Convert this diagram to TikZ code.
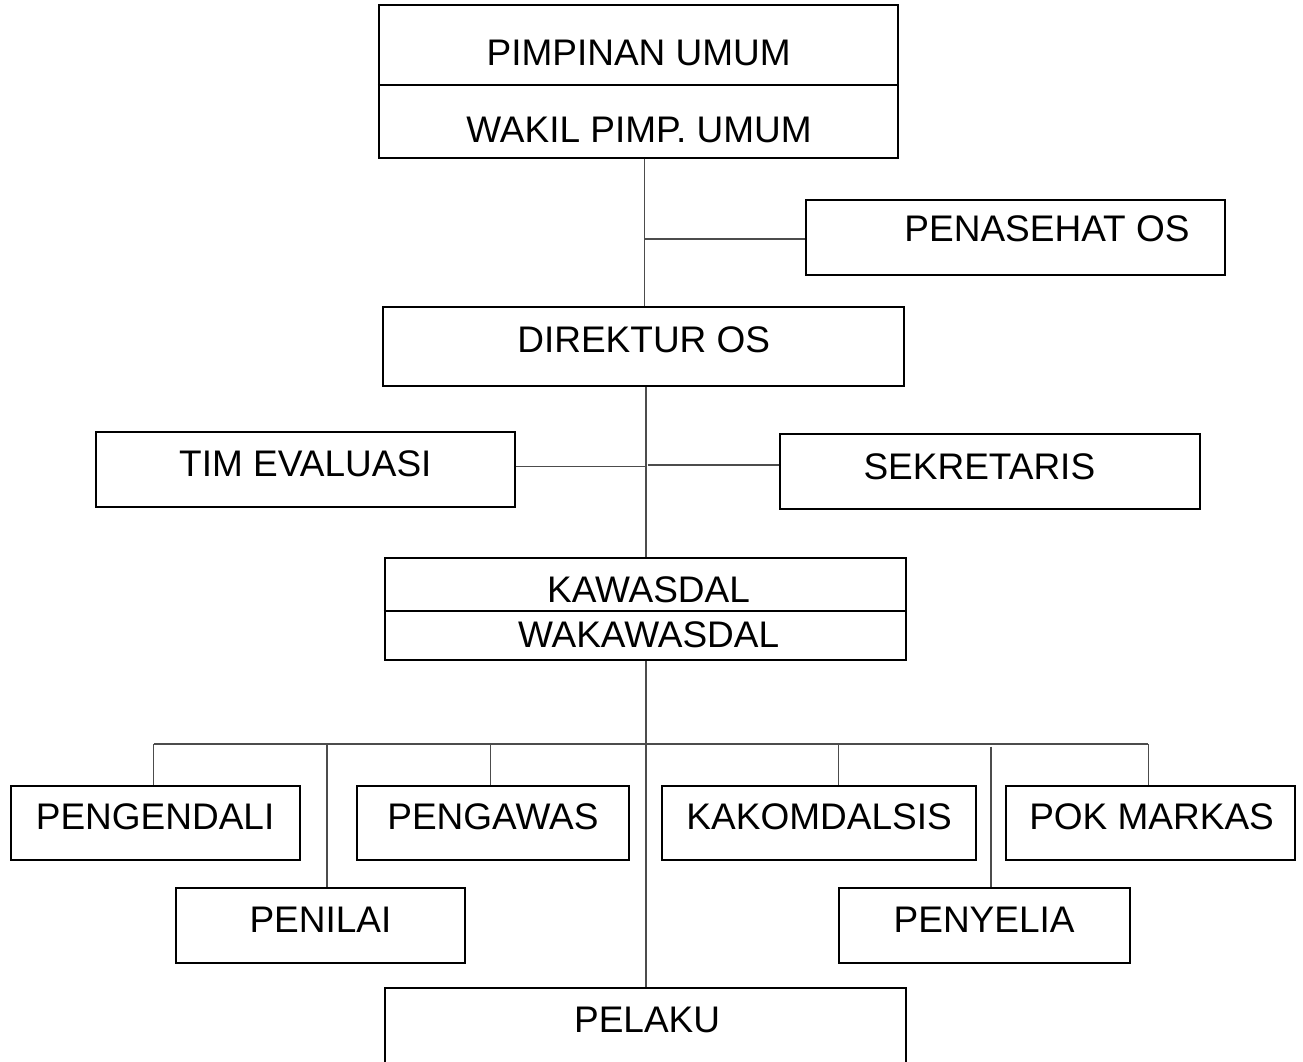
\documentclass[tikz,border=0pt]{standalone}
\usepackage{fontspec}
\setmainfont{Liberation Sans}
\newcommand\orgfont{\fontsize{37}{44}\selectfont}
\tikzset{
  orgbox/.style={draw=black, line width=2pt, inner sep=0pt, text depth=12pt, font=\orgfont},
  orglbl/.style={inner sep=0pt, font=\orgfont},
  conn/.style={draw=black!70, line width=1.3pt},
}
\begin{document}
\begin{tikzpicture}[x=1pt,y=-1pt]
\useasboundingbox (0,0) rectangle (1303,1062);
\clip (0,0) rectangle (1303,1062);

% top double box
\node[orgbox, minimum width=519pt, minimum height=152.7pt] (top) at (638.4,81.35) {};
\coordinate (d1) at (0,85);
\draw[line width=2pt] (top.west |- d1) -- (top.east |- d1);
\node[orglbl] (pimpinan) at (638.7,53.3) {PIMPINAN UMUM};
\node[orglbl] (wakil) at (639.1,130) {WAKIL PIMP. UMUM};

\node[orgbox, minimum width=419pt, minimum height=75pt, text depth=17pt] (penasehat) at (1015.5,237.5) {\hspace*{63pt}PENASEHAT OS};
\node[orgbox, minimum width=521pt, minimum height=78.7pt, text depth=14pt] (direktur) at (643.75,346.65) {DIREKTUR OS};
\node[orgbox, minimum width=418.7pt, minimum height=75pt, text depth=11pt] (tim) at (305.35,469.2) {TIM EVALUASI};
\node[orgbox, minimum width=420.7pt, minimum height=75.3pt, text depth=10.5pt] (sekretaris) at (989.85,471.65) {SEKRETARIS\hspace*{21pt}};

% kawasdal double box
\node[orgbox, minimum width=521pt, minimum height=101.7pt] (kawasdal) at (645,609.15) {};
\coordinate (d2) at (0,611);
\draw[line width=2pt] (kawasdal.west |- d2) -- (kawasdal.east |- d2);
\node[orglbl] (kawasdaltxt) at (648.5,589.5) {KAWASDAL};
\node[orglbl] (wakawasdal) at (648.6,634.7) {WAKAWASDAL};

% lower rows
\node[orgbox, minimum width=289.2pt, minimum height=74.3pt] (pengendali) at (155.1,822.85) {PENGENDALI};
\node[orgbox, minimum width=271.8pt, minimum height=74.3pt] (pengawas) at (492.9,822.85) {PENGAWAS};
\node[orgbox, minimum width=314.2pt, minimum height=74.3pt] (kakomdalsis) at (819.1,822.85) {KAKOMDALSIS};
\node[orgbox, minimum width=288.8pt, minimum height=74.3pt] (pokmarkas) at (1150.1,822.85) {\hspace*{3pt}POK MARKAS};
\node[orgbox, minimum width=289pt, minimum height=75.6pt, text depth=11pt] (penilai) at (320.5,925.5) {PENILAI};
\node[orgbox, minimum width=290.9pt, minimum height=75.6pt, text depth=11pt] (penyelia) at (984.15,925.5) {PENYELIA};
\node[orgbox, minimum width=520.8pt, minimum height=75.4pt] (pelaku) at (645.1,1026) {\hspace*{4pt}PELAKU};

% connector coordinates
\coordinate (sxA) at (644.5,0);
\coordinate (sxB) at (646,0);
\coordinate (j1) at (644.5,239);
\coordinate (j2) at (646,466.7);
\coordinate (j3) at (647.6,465);
\coordinate (barL) at (153.6,744);
\coordinate (barR) at (1148.3,744);
\coordinate (dPl) at (327,744);
\coordinate (dPw) at (490.3,744);
\coordinate (dK) at (838.7,744);
\coordinate (dPy) at (991,746.5);

% connectors
\draw[conn] (top.south -| sxA) -- (direktur.north -| sxA);
\draw[conn] (j1) -- (j1 -| penasehat.west);
\draw[conn] (direktur.south -| sxB) -- (kawasdal.north -| sxB);
\draw[conn] (j2 -| tim.east) -- (j2);
\draw[conn] (j3) -- (j3 -| sekretaris.west);
\draw[conn] (kawasdal.south -| sxB) -- (pelaku.north -| sxB);
\draw[conn] (barL) -- (barR);
\draw[conn] (barL) -- (barL |- pengendali.north);
\draw[conn] (dPl) -- (dPl |- penilai.north);
\draw[conn] (dPw) -- (dPw |- pengawas.north);
\draw[conn] (dK) -- (dK |- kakomdalsis.north);
\draw[conn] (dPy) -- (dPy |- penyelia.north);
\draw[conn] (barR) -- (barR |- pokmarkas.north);
\end{tikzpicture}
\end{document}
